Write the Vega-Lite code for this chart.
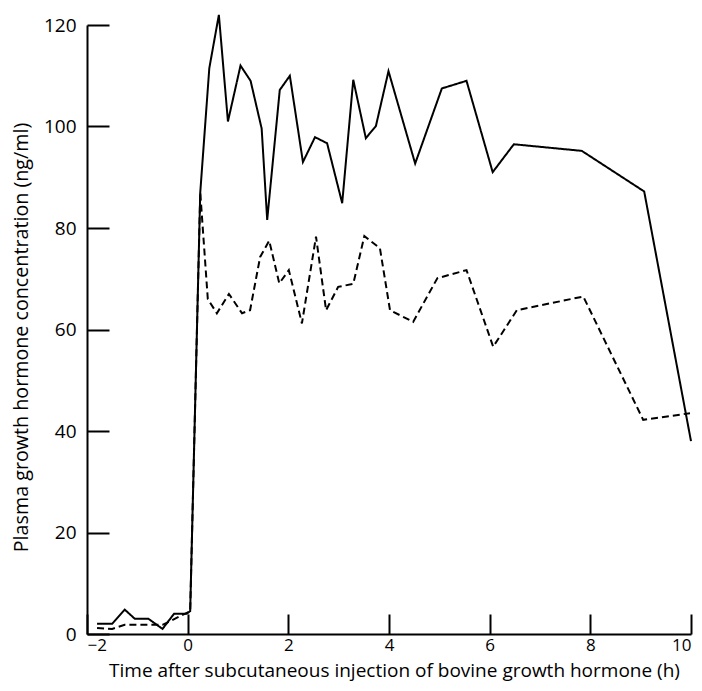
{
  "$schema": "https://vega.github.io/schema/vega-lite/v6.json",
  "width": 604,
  "height": 609,
  "autosize": {"type": "none"},
  "padding": {"left": 87, "top": 25, "right": 11, "bottom": 57},
  "background": "white",
  "config": {
    "view": {"stroke": null},
    "axis": {
      "grid": false,
      "ticks": true,
      "domainColor": "black",
      "domainWidth": 2,
      "tickColor": "black",
      "tickWidth": 2,
      "labelFont": "Open Sans",
      "labelFontSize": 17,
      "labelColor": "black",
      "titleFont": "Open Sans",
      "titleFontSize": 19.7,
      "titleFontWeight": "normal",
      "titleColor": "black"
    }
  },
  "data": {
    "values": [
      {"time": -1.8, "conc": 2.0, "series": "A"},
      {"time": -1.5, "conc": 2.0, "series": "A"},
      {"time": -1.25, "conc": 4.8, "series": "A"},
      {"time": -1.05, "conc": 3.0, "series": "A"},
      {"time": -0.78, "conc": 3.0, "series": "A"},
      {"time": -0.5, "conc": 1.0, "series": "A"},
      {"time": -0.27, "conc": 4.0, "series": "A"},
      {"time": -0.02, "conc": 4.0, "series": "A"},
      {"time": 0.05, "conc": 4.5, "series": "A"},
      {"time": 0.25, "conc": 87, "series": "A"},
      {"time": 0.43, "conc": 111.5, "series": "A"},
      {"time": 0.62, "conc": 122, "series": "A"},
      {"time": 0.8, "conc": 101, "series": "A"},
      {"time": 1.05, "conc": 112, "series": "A"},
      {"time": 1.25, "conc": 109, "series": "A"},
      {"time": 1.47, "conc": 99.6, "series": "A"},
      {"time": 1.58, "conc": 81.6, "series": "A"},
      {"time": 1.83, "conc": 107.2, "series": "A"},
      {"time": 2.03, "conc": 110, "series": "A"},
      {"time": 2.29, "conc": 93, "series": "A"},
      {"time": 2.53, "conc": 97.9, "series": "A"},
      {"time": 2.77, "conc": 96.7, "series": "A"},
      {"time": 3.07, "conc": 84.9, "series": "A"},
      {"time": 3.29, "conc": 109.2, "series": "A"},
      {"time": 3.54, "conc": 97.7, "series": "A"},
      {"time": 3.74, "conc": 100.1, "series": "A"},
      {"time": 3.99, "conc": 110.9, "series": "A"},
      {"time": 4.52, "conc": 92.7, "series": "A"},
      {"time": 5.05, "conc": 107.5, "series": "A"},
      {"time": 5.54, "conc": 109, "series": "A"},
      {"time": 6.06, "conc": 91, "series": "A"},
      {"time": 6.48, "conc": 96.5, "series": "A"},
      {"time": 7.83, "conc": 95.2, "series": "A"},
      {"time": 9.07, "conc": 87.2, "series": "A"},
      {"time": 10.0, "conc": 38, "series": "A"},
      {"time": -1.8, "conc": 1.2, "series": "B"},
      {"time": -1.5, "conc": 1.0, "series": "B"},
      {"time": -1.25, "conc": 1.8, "series": "B"},
      {"time": -0.5, "conc": 1.8, "series": "B"},
      {"time": 0.05, "conc": 4.5, "series": "B"},
      {"time": 0.25, "conc": 87, "series": "B"},
      {"time": 0.4, "conc": 66, "series": "B"},
      {"time": 0.58, "conc": 63.2, "series": "B"},
      {"time": 0.82, "conc": 67, "series": "B"},
      {"time": 1.08, "conc": 63.2, "series": "B"},
      {"time": 1.24, "conc": 63.8, "series": "B"},
      {"time": 1.44, "conc": 74.3, "series": "B"},
      {"time": 1.62, "conc": 77.5, "series": "B"},
      {"time": 1.82, "conc": 69.1, "series": "B"},
      {"time": 2.01, "conc": 71.7, "series": "B"},
      {"time": 2.27, "conc": 61.2, "series": "B"},
      {"time": 2.55, "conc": 78.3, "series": "B"},
      {"time": 2.75, "conc": 63.8, "series": "B"},
      {"time": 2.99, "conc": 68.4, "series": "B"},
      {"time": 3.29, "conc": 69, "series": "B"},
      {"time": 3.51, "conc": 78.4, "series": "B"},
      {"time": 3.82, "conc": 76, "series": "B"},
      {"time": 4.02, "conc": 63.8, "series": "B"},
      {"time": 4.48, "conc": 61.5, "series": "B"},
      {"time": 4.96, "conc": 70.1, "series": "B"},
      {"time": 5.54, "conc": 71.7, "series": "B"},
      {"time": 6.07, "conc": 56.6, "series": "B"},
      {"time": 6.54, "conc": 63.8, "series": "B"},
      {"time": 7.86, "conc": 66.5, "series": "B"},
      {"time": 9.05, "conc": 42.2, "series": "B"},
      {"time": 9.98, "conc": 43.5, "series": "B"}
    ]
  },
  "mark": {"type": "line", "color": "black", "strokeWidth": 2, "clip": false},
  "encoding": {
    "x": {
      "field": "time",
      "type": "quantitative",
      "scale": {"domain": [-2, 10], "nice": false, "zero": false},
      "axis": {
        "values": [-2, 0, 2, 4, 6, 8, 10],
        "title": "Time after subcutaneous injection of bovine growth hormone (h)",
        "tickSize": -20,
        "labelPadding": 23,
        "titleX": 307,
        "titleY": 42,
        "titleFontSize": 19,
        "titleBaseline": "alphabetic",
        "titleAnchor": "middle"
      }
    },
    "y": {
      "field": "conc",
      "type": "quantitative",
      "scale": {"domain": [0, 120], "nice": false},
      "axis": {
        "values": [0, 20, 40, 60, 80, 100, 120],
        "title": "Plasma growth hormone concentration (ng/ml)",
        "tickSize": -22,
        "labelPadding": 33,
        "labelFontSize": 19,
        "titleAngle": 270,
        "titleX": -60,
        "titleY": 312,
        "titleBaseline": "alphabetic",
        "titleAnchor": "middle"
      }
    },
    "strokeDash": {
      "field": "series",
      "type": "nominal",
      "scale": {"domain": ["A", "B"], "range": [[1, 0], [7, 4]]},
      "legend": null
    }
  }
}
